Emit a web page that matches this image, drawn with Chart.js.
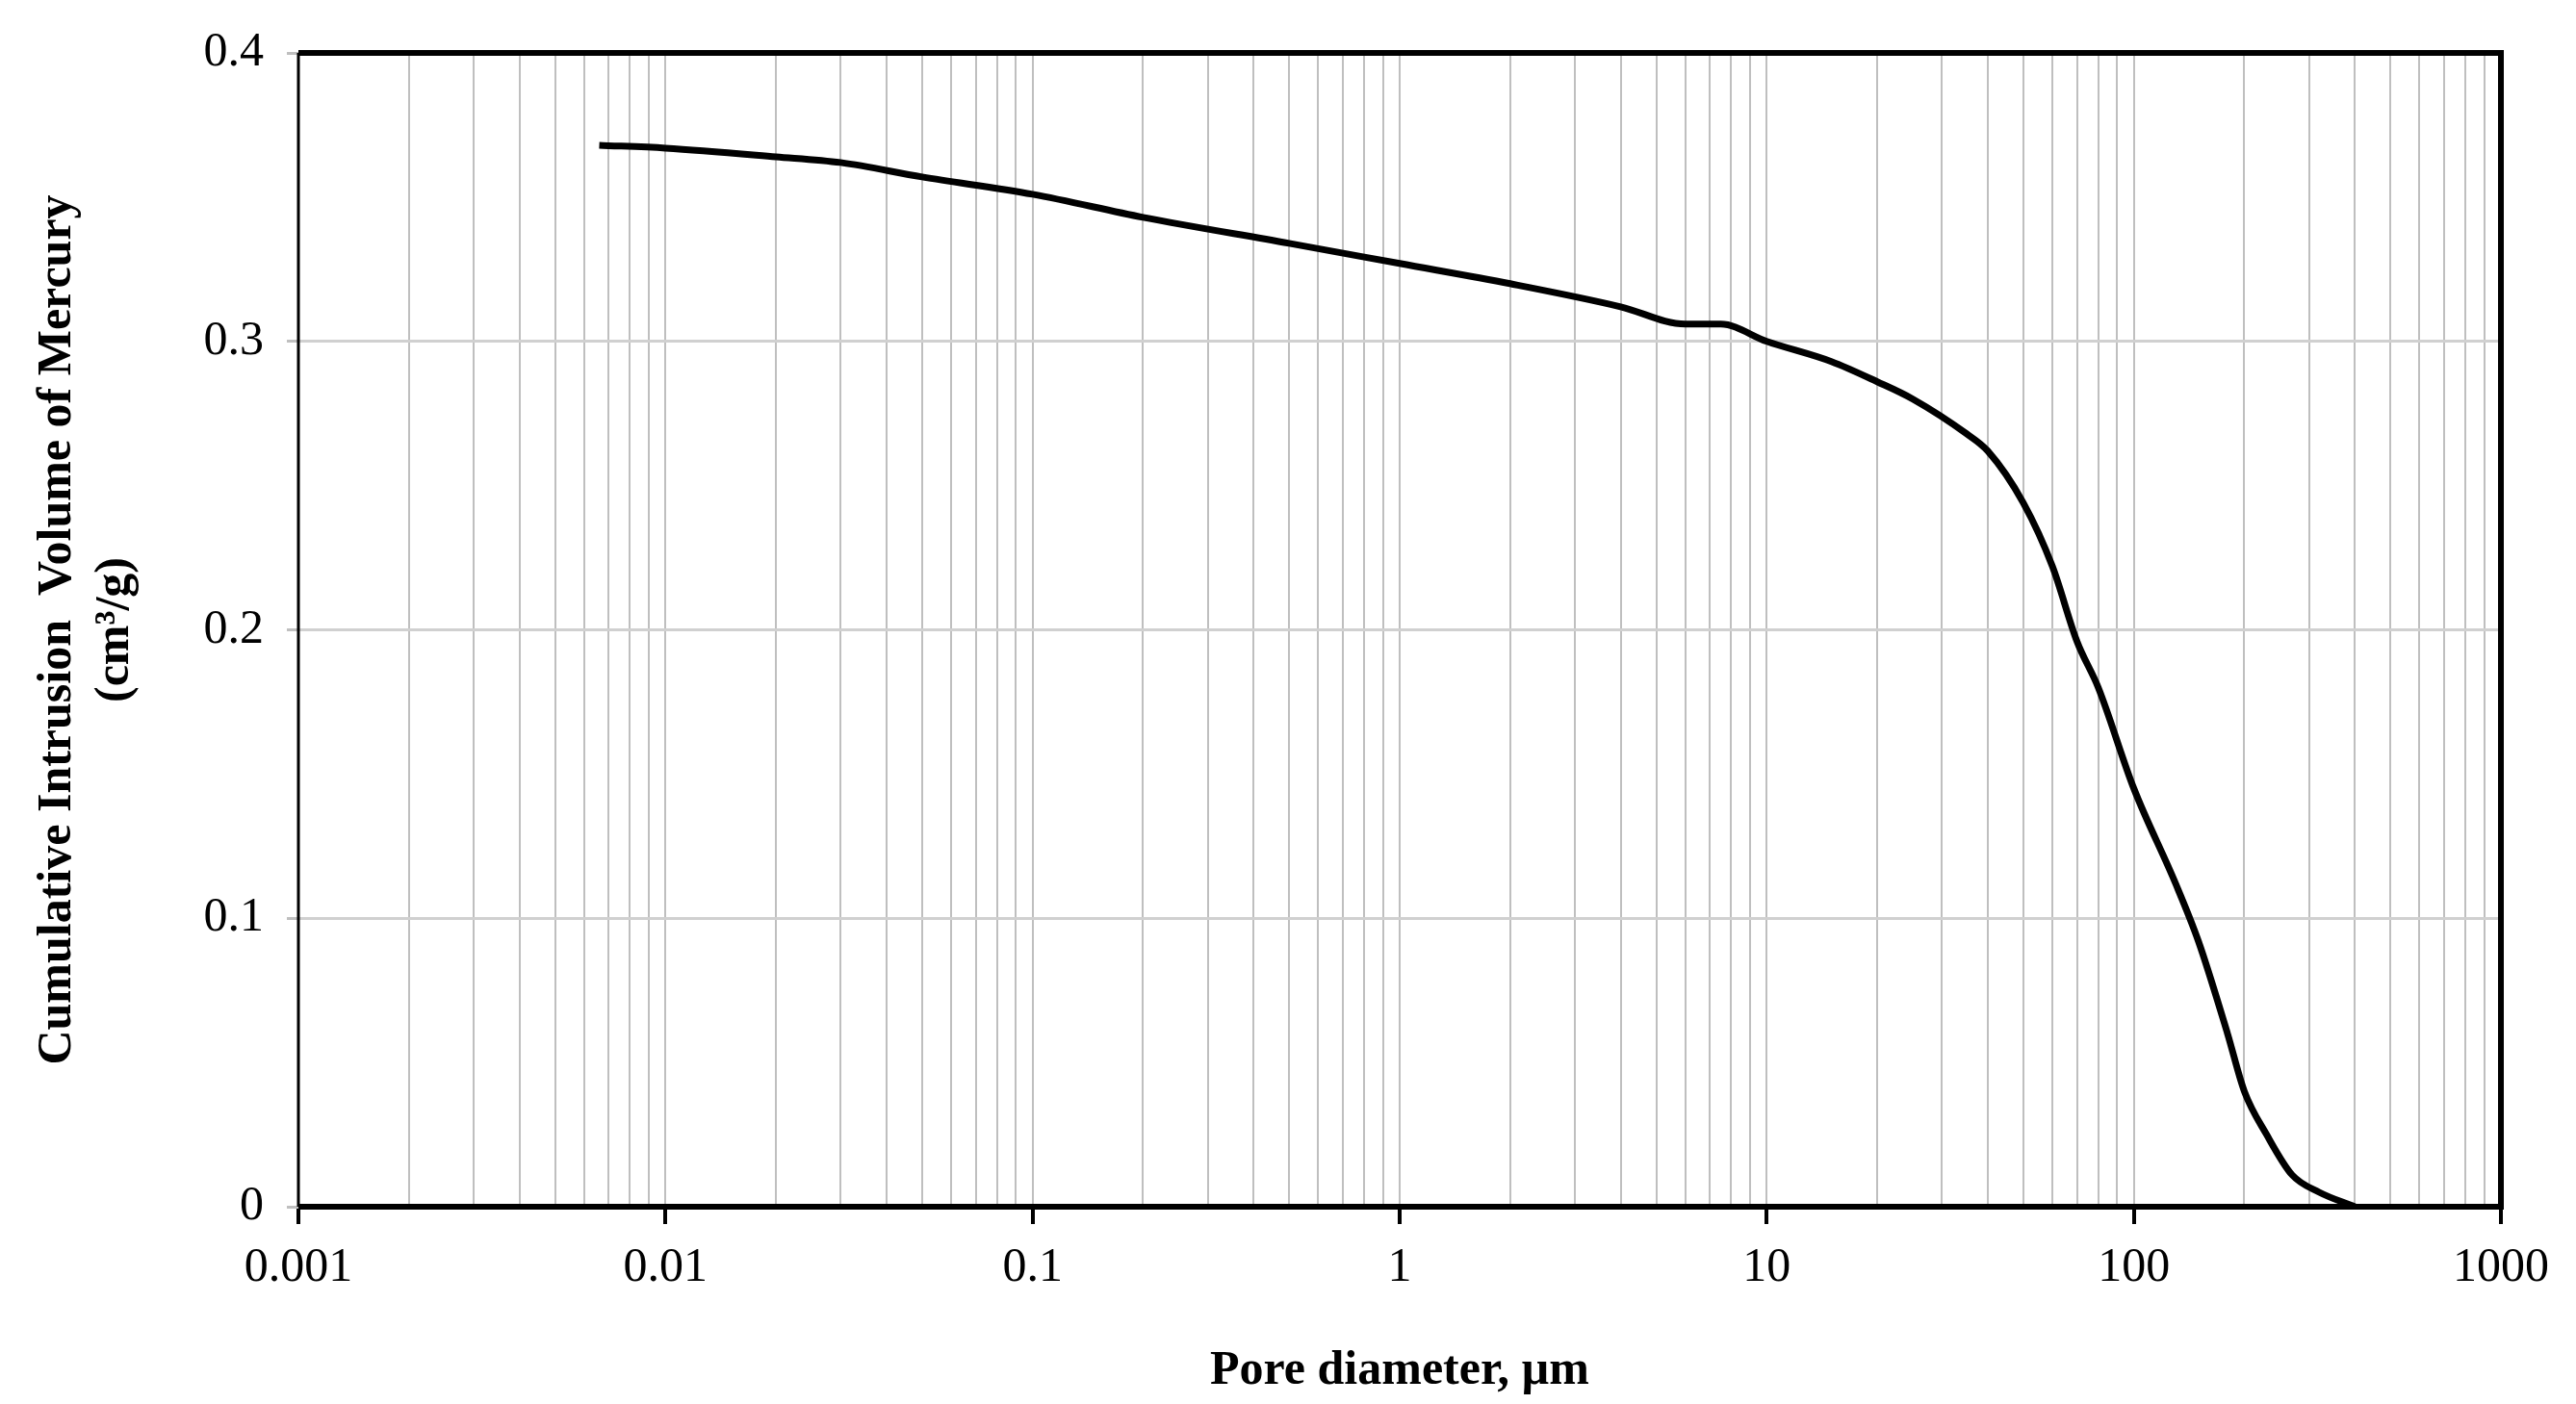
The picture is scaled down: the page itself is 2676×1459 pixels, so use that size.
<!DOCTYPE html>
<html><head><meta charset="utf-8">
<script src="https://cdn.jsdelivr.net/npm/chart.js@4"></script>
<style>html,body{margin:0;padding:0;background:#fff}#w{width:2676px;height:1459px}</style>
</head><body><div id="w"><canvas id="c"></canvas></div>
<script>
const poreDiameter=[0.0066,0.01,0.02,0.03,0.05,0.1,0.2,0.5,1,2,4,6,7.5,10,15,20,25,35,40,50,60,70,80,100,130,150,180,200,230,270,320,400];
const cumVolume=[0.368,0.367,0.364,0.362,0.357,0.351,0.343,0.334,0.327,0.320,0.312,0.306,0.306,0.300,0.293,0.286,0.280,0.268,0.262,0.244,0.222,0.196,0.180,0.145,0.112,0.092,0.060,0.040,0.025,0.011,0.005,0.0];
const yTicks=[0,0.1,0.2,0.3,0.4];
const xDecades=[0.001,0.01,0.1,1,10,100,1000];
const F='"Liberation Serif","Times New Roman",serif';
const border={id:'border',afterDraw(ch){const a=ch.chartArea,c=ch.ctx;c.save();c.strokeStyle='#000';c.lineWidth=6;c.beginPath();c.moveTo(a.left,a.top);c.lineTo(a.right,a.top);c.lineTo(a.right,a.bottom);c.lineTo(a.left,a.bottom);c.stroke();c.lineWidth=3;c.beginPath();c.moveTo(a.left,a.top);c.lineTo(a.left,a.bottom);c.stroke();c.restore();}};
new Chart(document.getElementById('c'),{type:'scatter',
data:{datasets:[{data:poreDiameter.map((x,i)=>({x,y:cumVolume[i]})),showLine:true,borderColor:'#000',borderWidth:7,pointRadius:0,cubicInterpolationMode:'monotone',fill:false}]},
options:{responsive:true,maintainAspectRatio:false,animation:false,
layout:{padding:{top:55,right:78,left:0,bottom:0}},
plugins:{legend:{display:false},tooltip:{enabled:false}},
scales:{
x:{type:'logarithmic',min:0.001,max:1000,
afterBuildTicks(s){const t=[];for(let d=-3;d<3;d++){for(let m=1;m<10;m++)t.push({value:m*Math.pow(10,d)});}t.push({value:1000});s.ticks=t;},
afterFit(s){s.height=205;},
ticks:{autoSkip:false,maxRotation:0,padding:16,color:'#000',font:{family:F,size:50},callback(v){const l=Math.log10(v);return Math.abs(l-Math.round(l))<1e-9?String(xDecades.find(d=>Math.abs(d-v)<1e-9*d)??v):'';}},
grid:{color:'#bfbfbf',lineWidth:2,tickLength:18,tickColor(c){const v=c.tick&&c.tick.value;if(!v)return 'transparent';const l=Math.log10(v);return Math.abs(l-Math.round(l))<1e-9?'#000':'transparent';},tickWidth:4},
border:{display:false},
title:{display:true,text:'Pore diameter, µm',color:'#000',font:{family:F,size:50,weight:'bold'},padding:{top:12}}},
y:{min:0,max:0.4,
afterBuildTicks(s){s.ticks=yTicks.map(v=>({value:v}));},
afterFit(s){s.width=310;},
ticks:{color:'#000',padding:24,font:{family:F,size:50},callback:v=>String(v)},
grid:{color:'#d0d0d0',lineWidth:3,tickLength:12,tickColor:'#bfbfbf'},
border:{display:false},
title:{display:true,text:['Cumulative Intrusion  Volume of Mercury','(cm³/g)'],color:'#000',font:{family:F,size:50,weight:'bold'},padding:{top:30,bottom:10}}}}},
plugins:[border]});
</script></body></html>
